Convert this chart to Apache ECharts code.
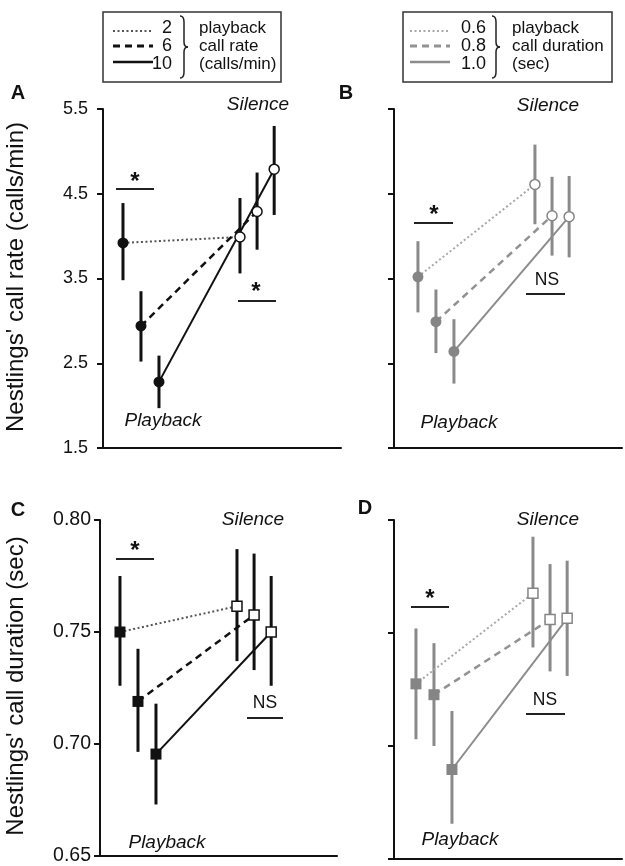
<!DOCTYPE html>
<html><head><meta charset="utf-8">
<script src="https://cdn.jsdelivr.net/npm/echarts@6/dist/echarts.min.js"></script>
<style>html,body{margin:0;padding:0;background:#fff}#c{width:625px;height:866px}</style>
</head><body><div id="c"></div>
<script>
// ---------- data ----------
const rateLevels = ['2', '6', '10'];
const durLevels = ['0.6', '0.8', '1.0'];
const xPlayback = [1, 2, 3];
const xSilence = [7.5, 8.45, 9.4];

// Panel A: call rate vs playback call rate
const A_pb   = [3.92, 2.94, 2.28];
const A_pbLo = [3.48, 2.52, 1.97];
const A_pbHi = [4.39, 3.35, 2.59];
const A_si   = [3.99, 4.29, 4.79];
const A_siLo = [3.56, 3.84, 4.25];
const A_siHi = [4.45, 4.75, 5.30];
// Panel B: call rate vs playback call duration
const B_pb   = [3.52, 2.99, 2.64];
const B_pbLo = [3.10, 2.62, 2.26];
const B_pbHi = [3.94, 3.37, 3.02];
const B_si   = [4.61, 4.24, 4.23];
const B_siLo = [4.14, 3.77, 3.75];
const B_siHi = [5.08, 4.70, 4.71];
// Panel C: call duration vs playback call rate
const C_pb   = [0.750, 0.719, 0.6955];
const C_pbLo = [0.726, 0.6965, 0.673];
const C_pbHi = [0.775, 0.7425, 0.718];
const C_si   = [0.7615, 0.7576, 0.750];
const C_siLo = [0.737, 0.733, 0.726];
const C_siHi = [0.787, 0.785, 0.775];
// Panel D: call duration vs playback call duration
const D_pb   = [0.7275, 0.7227, 0.6896];
const D_pbLo = [0.703, 0.700, 0.6656];
const D_pbHi = [0.752, 0.7455, 0.7155];
const D_si   = [0.7676, 0.756, 0.7565];
const D_siLo = [0.7436, 0.733, 0.731];
const D_siHi = [0.7926, 0.7805, 0.782];

const rateAxis = {min: 1.5, max: 5.5, interval: 1};
const durAxis = {min: 0.65, max: 0.80, interval: 0.05};

// ---------- styles ----------
const FONT = "'Liberation Sans', Arial, Helvetica, sans-serif";
const BLACK = {lines: ['#555', '#111', '#111'], widths: [2, 2.5, 2], point: '#111', bar: '#111'};
const GREY = {lines: ['#a8a8a8', '#929292', '#8c8c8c'], widths: [2, 2.5, 2], point: '#858585', bar: '#8a8a8a'};
const DASHES = [[2, 2.5], [7, 5], 'solid'];

const chart = echarts.init(document.getElementById('c'), null, {renderer: 'canvas'});

const grids = [
  {left: 103, top: 109, width: 238, height: 339},
  {left: 394, top: 109, width: 228, height: 339},
  {left: 100, top: 520, width: 237, height: 339},
  {left: 394, top: 520, width: 228, height: 339}
];
const PXU = 18;
const xMins = [-0.11, -0.33, -0.11, -0.22];

const xAxes = grids.map((g, i) => ({
  type: 'value', gridIndex: i, min: xMins[i], max: xMins[i] + g.width / PXU,
  axisLine: {show: true, onZero: false, lineStyle: {color: '#111', width: 2}},
  axisTick: {show: false}, axisLabel: {show: false}, splitLine: {show: false}
}));

function yAx(i, rng, showLabels, margin, dec, fs) {
  return {
    type: 'value', gridIndex: i, min: rng.min, max: rng.max, interval: rng.interval,
    axisLine: {show: true, onZero: false, lineStyle: {color: '#111', width: 2}},
    axisTick: {show: true, length: 6, lineStyle: {color: '#111', width: 2}},
    axisLabel: {show: showLabels, margin: margin, fontSize: fs, color: '#111', fontFamily: FONT,
      formatter: v => v.toFixed(dec)},
    splitLine: {show: false}
  };
}
const yAxes = [
  yAx(0, rateAxis, true, 15, 1, 18),
  yAx(1, rateAxis, false, 10, 1, 18),
  yAx(2, durAxis, true, 9, 2, 19.5),
  yAx(3, durAxis, false, 9, 2, 19.5)
];

function panelSeries(idx, pb, pbLo, pbHi, si, siLo, siHi, pal, symbol, size) {
  const s = [];
  const eb = [];
  for (let i = 0; i < 3; i++) {
    eb.push([xPlayback[i], pbLo[i], pbHi[i]]);
    eb.push([xSilence[i], siLo[i], siHi[i]]);
  }
  s.push({
    type: 'custom', xAxisIndex: idx, yAxisIndex: idx, z: 2, silent: true, data: eb,
    encode: {x: 0, y: [1, 2]},
    renderItem: (params, api) => {
      const p1 = api.coord([api.value(0), api.value(1)]);
      const p2 = api.coord([api.value(0), api.value(2)]);
      return {type: 'line', shape: {x1: p1[0], y1: p1[1], x2: p2[0], y2: p2[1]},
        style: {stroke: pal.bar, lineWidth: 3}};
    }
  });
  for (let i = 0; i < 3; i++) {
    s.push({
      type: 'line', xAxisIndex: idx, yAxisIndex: idx, z: 3, silent: true, symbol: 'none',
      data: [[xPlayback[i], pb[i]], [xSilence[i], si[i]]],
      lineStyle: {color: pal.lines[i], width: pal.widths[i], type: DASHES[i]}
    });
  }
  s.push({
    type: 'scatter', xAxisIndex: idx, yAxisIndex: idx, z: 4, silent: true, symbol: symbol, symbolSize: size,
    data: xPlayback.map((x, i) => [x, pb[i]]), itemStyle: {color: pal.point, opacity: 1}
  });
  s.push({
    type: 'scatter', xAxisIndex: idx, yAxisIndex: idx, z: 5, silent: true, symbol: symbol, symbolSize: size - 1,
    data: xSilence.map((x, i) => [x, si[i]]),
    itemStyle: {color: '#fff', borderColor: pal.point, borderWidth: 1.5, opacity: 1}
  });
  return s;
}

const series = [].concat(
  panelSeries(0, A_pb, A_pbLo, A_pbHi, A_si, A_siLo, A_siHi, BLACK, 'circle', 11),
  panelSeries(1, B_pb, B_pbLo, B_pbHi, B_si, B_siLo, B_siHi, GREY, 'circle', 11),
  panelSeries(2, C_pb, C_pbLo, C_pbHi, C_si, C_siLo, C_siHi, BLACK, 'rect', 11),
  panelSeries(3, D_pb, D_pbLo, D_pbHi, D_si, D_siLo, D_siHi, GREY, 'rect', 11)
);

// ---------- annotations ----------
function txt(x, y, str, o) {
  o = o || {};
  return {
    type: 'text', x: x, y: y, rotation: o.rot || 0, z: 10,
    style: {
      text: str, fill: o.color || '#111', fontSize: o.size || 18, fontFamily: FONT,
      fontStyle: o.italic ? 'italic' : 'normal', fontWeight: o.bold ? 'bold' : 'normal',
      textAlign: o.align || 'center', align: o.align || 'center',
      textVerticalAlign: 'middle', verticalAlign: 'middle'
    }
  };
}
function hl(x1, x2, y, color) {
  return {type: 'line', z: 10, shape: {x1: x1, y1: y, x2: x2, y2: y}, style: {stroke: color || '#222', lineWidth: 2}};
}
function seg(x1, y1, x2, y2) {
  return {type: 'line', z: 10, shape: {x1: x1, y1: y1, x2: x2, y2: y2}, style: {stroke: '#222', lineWidth: 1.5}};
}
function qc(x1, y1, cx, cy, x2, y2) {
  return {type: 'bezierCurve', z: 10, shape: {x1: x1, y1: y1, x2: x2, y2: y2, cpx1: cx, cpy1: cy},
    style: {stroke: '#222', fill: null, lineWidth: 1.5}};
}
function brace(x, y1, y2) {
  const m = (y1 + y2) / 2;
  return [
    qc(x, y1, x + 4, y1, x + 4, y1 + 6),
    seg(x + 4, y1 + 6, x + 4, m - 5),
    qc(x + 4, m - 5, x + 4, m, x + 8, m),
    qc(x + 8, m, x + 4, m, x + 4, m + 5),
    seg(x + 4, m + 5, x + 4, y2 - 6),
    qc(x + 4, y2 - 6, x + 4, y2, x, y2)
  ];
}
function legendBox(bx, bw, lx1, lx2, numR, braceX, textX, nums, texts, pal) {
  let els = [];
  els.push({type: 'rect', z: 9, shape: {x: bx, y: 12, width: bw, height: 70},
    style: {stroke: '#333', fill: '#fff', lineWidth: 1.5}});
  const rowY = [28, 46, 64];
  const lineY = [31, 46, 62];
  for (let i = 0; i < 3; i++) {
    els.push({type: 'line', z: 10, shape: {x1: lx1, y1: lineY[i], x2: lx2, y2: lineY[i]},
      style: {stroke: pal.lines[i], lineWidth: i === 1 ? 3 : (i === 0 ? 2 : 2.5),
        lineDash: i === 0 ? [2, 2.5] : (i === 1 ? [7, 5] : null)}});
    els.push(txt(numR, rowY[i], nums[i], {align: 'right', size: 18}));
    els.push(txt(textX, rowY[i], texts[i], {align: 'left', size: 17}));
  }
  els = els.concat(brace(braceX, 16, 78));
  return els;
}

const graphics = [].concat(
  legendBox(103, 178, 113, 153, 172, 180, 199, rateLevels, ['playback', 'call rate', '(calls/min)'], BLACK),
  legendBox(403, 209, 410, 450, 486, 492, 512, durLevels, ['playback', 'call duration', '(sec)'], GREY),
  [
    // panel letters
    txt(18, 93, 'A', {bold: true, size: 20}),
    txt(346, 93, 'B', {bold: true, size: 20}),
    txt(18, 510, 'C', {bold: true, size: 20}),
    txt(365, 508, 'D', {bold: true, size: 20}),
    // y titles
    txt(16, 277, "Nestlings' call rate (calls/min)", {rot: Math.PI / 2, size: 24}),
    txt(16, 686, "Nestlings' call duration (sec)", {rot: Math.PI / 2, size: 24}),
    // Panel A
    txt(258, 105, 'Silence', {italic: true, size: 19}),
    txt(163, 421, 'Playback', {italic: true, size: 19}),
    txt(135, 182, '*', {size: 24, bold: true}), hl(116, 154, 189),
    txt(256, 292, '*', {size: 24, bold: true}), hl(238, 276, 301),
    // Panel B
    txt(548, 106, 'Silence', {italic: true, size: 19}),
    txt(459, 423, 'Playback', {italic: true, size: 19}),
    txt(434, 215, '*', {size: 24, bold: true}), hl(414, 453, 223),
    txt(547, 280, 'NS', {size: 17.5}), hl(526, 565, 294),
    // Panel C
    txt(253, 520, 'Silence', {italic: true, size: 19}),
    txt(167, 843, 'Playback', {italic: true, size: 19}),
    txt(135, 551, '*', {size: 24, bold: true}), hl(116, 154, 559),
    txt(265, 703, 'NS', {size: 17.5}), hl(247, 283, 718),
    // Panel D
    txt(548, 520, 'Silence', {italic: true, size: 19}),
    txt(460, 840, 'Playback', {italic: true, size: 19}),
    txt(430, 599, '*', {size: 24, bold: true}), hl(411, 449, 607),
    txt(545, 700, 'NS', {size: 17.5}), hl(526, 565, 714)
  ]
);

chart.setOption({
  animation: false,
  backgroundColor: '#fff',
  grid: grids,
  xAxis: xAxes,
  yAxis: yAxes,
  series: series,
  graphic: {elements: graphics}
});
</script>
</body></html>
